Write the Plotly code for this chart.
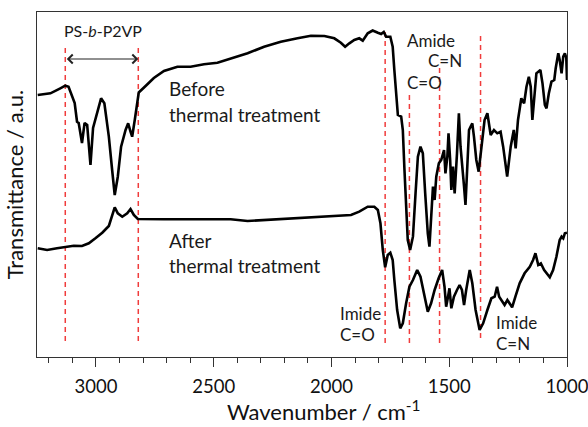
import plotly.graph_objects as go

# ---- data ----
wn_before = [3247, 3193, 3151, 3130, 3116, 3101, 3090, 3080, 3073, 3059, 3048, 3037, 3023, 3012,
             2998, 2978, 2964, 2945, 2931, 2920, 2907, 2893, 2874, 2863, 2853, 2846, 2835, 2824,
             2818, 2789, 2754, 2711, 2654, 2598, 2541, 2484, 2428, 2356, 2286, 2215, 2144, 2087,
             2030, 1988, 1960, 1942, 1924, 1903, 1882, 1867, 1846, 1825, 1803, 1789, 1778, 1768,
             1750, 1740, 1733, 1725, 1718, 1704, 1697, 1690, 1683, 1676, 1666, 1654, 1643, 1633,
             1622, 1612, 1602, 1591, 1584, 1577, 1569, 1562, 1555, 1544, 1534, 1522, 1516, 1508,
             1503, 1496, 1491, 1484, 1477, 1467, 1459, 1452, 1445, 1437, 1431, 1423, 1416, 1409,
             1402, 1395, 1385, 1375, 1364, 1350, 1338, 1324, 1310, 1296, 1282, 1271, 1254, 1239,
             1226, 1218, 1208, 1194, 1182, 1172, 1162, 1154, 1147, 1140, 1130, 1113, 1104, 1094,
             1087, 1077, 1066, 1054, 1048, 1037, 1031, 1023, 1016, 1009, 1003, 1000]
t_before = [262, 263.7, 268.7, 271.3, 270.3, 260.3, 254, 235.3, 234, 214, 234, 232, 192, 229,
            240.3, 258.7, 253.7, 220.3, 187, 162, 180.3, 210.3, 227, 233.7, 225.3, 220.3, 237, 257,
            264.5, 271, 279, 286, 290.3, 290.3, 292.7, 294.3, 298.7, 303.7, 310.3, 315.3, 318.7, 321.3,
            321, 318.7, 314.3, 310.3, 313.7, 317, 318.7, 316.3, 323.7, 326.5, 324.3, 323, 325, 320.3,
            320.3, 310.3, 287, 260.3, 242, 240.3, 227, 187, 143.7, 117, 107, 120.3, 163.7, 200.3,
            210.3, 203.7, 163.7, 123.7, 110.3, 137, 170.3, 157, 180.3, 193.7, 197, 207, 183.7, 200.3,
            223.7, 197, 167, 190.3, 163.7, 203.7, 243.7, 210.3, 187, 170.3, 152, 193.7, 227, 230.3,
            233.7, 220.3, 197, 185.3, 210.3, 237, 243.7, 222, 227, 223.7, 225.3, 210.3, 180.3, 210.3,
            227, 208.7, 237, 258.7, 253.7, 270.3, 280.3, 270.3, 237, 257, 283.7, 287, 273.7, 252,
            248.7, 263.7, 275.3, 277, 288.7, 303.7, 297, 283.7, 300.3, 303.7, 299, 277]

wn_after = [3247, 3207, 3165, 3130, 3094, 3059, 3030, 3002, 2973, 2945, 2931, 2920, 2907, 2888,
            2867, 2853, 2839, 2822, 2711, 2569, 2428, 2356, 2286, 2144, 2002, 1917, 1882, 1860,
            1846, 1818, 1803, 1792, 1782, 1772, 1761, 1750, 1740, 1733, 1721, 1708, 1697, 1683,
            1669, 1654, 1636, 1622, 1605, 1591, 1577, 1562, 1545, 1530, 1520, 1513, 1505, 1499,
            1491, 1480, 1467, 1456, 1446, 1437, 1428, 1413, 1402, 1388, 1371, 1356, 1338, 1321,
            1307, 1297, 1288, 1279, 1265, 1253, 1243, 1233, 1219, 1201, 1180, 1158, 1144, 1134,
            1122, 1111, 1097, 1073, 1059, 1045, 1031, 1023, 1016, 1009, 1000]
t_after = [108.7, 107, 108.7, 110.3, 111.3, 111, 113.7, 118.7, 124.3, 131, 140.3, 149.7, 143.7, 140.3,
           143.7, 148, 142, 138, 137.7, 137.7, 137.7, 136, 137, 138.7, 141, 142, 145.3, 148.7,
           150.3, 150.3, 147, 133.7, 107, 89.7, 102, 104.3, 97, 77, 47, 28.7, 33.7, 53.7,
           70.3, 77, 87, 80.3, 60.3, 45.3, 53.7, 67, 78.7, 87, 70.3, 50.3, 60.3, 68.7,
           48.7, 60.3, 67, 72, 67, 52, 67, 87, 73.7, 47, 27, 33.7, 47, 58.7,
           60.3, 70.3, 60.3, 57, 52, 57, 53.7, 49.7, 60.3, 73.7, 83.7, 90.3, 97, 103.7,
           92, 93.7, 87, 79.7, 87, 100.3, 117, 120.3, 118.7, 123.7, 124.3]

# marker lines: wavenumber, bottom, top (a.u.)
mark_wn = [3130, 2820, 1772, 1669, 1541, 1367]
mark_lo = [16, 16, 14, 14, 14, 19]
mark_hi = [312, 312, 329, 262, 290, 321]

x_ticks = [3000, 2500, 2000, 1500, 1000]

FONT = "Lato"

fig = go.Figure()
fig.add_trace(go.Scatter(x=wn_before, y=t_before, mode="lines",
                         line=dict(color="black", width=2.6), showlegend=False))
fig.add_trace(go.Scatter(x=wn_after, y=t_after, mode="lines",
                         line=dict(color="black", width=2.6), showlegend=False))

for w, lo, hi in zip(mark_wn, mark_lo, mark_hi):
    fig.add_shape(type="line", x0=w, x1=w, y0=lo, y1=hi, xref="x", yref="y",
                  line=dict(color="#f03c3c", width=1.5, dash="5px,4px"), layer="below")

def txt(s, x, y, size=17, anchor="left"):
    fig.add_annotation(text=s, x=x, y=y, xref="x", yref="y", showarrow=False,
                       xanchor=anchor, yanchor="middle",
                       font=dict(family=FONT, size=size, color="#1a1a1a"))

txt("PS-<i>b</i>-P2VP", 2968, 327, size=16, anchor="center")
txt("Before", 2700, 269, 19)
txt("thermal treatment", 2700, 243, 19)
txt("After", 2700, 117, 19)
txt("thermal treatment", 2700, 92, 19)
txt("Amide", 1687, 317)
txt("C=N", 1598, 297)
txt("C=O", 1687, 275)
txt("Imide", 1972, 44)
txt("C=O", 1972, 23)
txt("Imide", 1309, 35)
txt("C=N", 1309, 14)

fig.add_annotation(x=2820, y=298, ax=3130, ay=298, xref="x", yref="y", axref="x", ayref="y",
                   text="", showarrow=True, arrowhead=4, arrowside="end+start",
                   arrowsize=1.6, arrowwidth=1.1, arrowcolor="#222")

# x-axis title as annotation (shifted right like the reference)
fig.add_annotation(text="Wavenumber / cm<sup>-1</sup>", x=0.5415, y=-0.155, xref="paper",
                   yref="paper", showarrow=False, xanchor="center", yanchor="middle",
                   font=dict(family=FONT, size=22, color="#111"))

fig.update_xaxes(range=[3250, 1000], tickvals=x_ticks, ticks="outside", ticklen=9,
                 tickwidth=1.3, tickcolor="#333", showline=True, linecolor="#333", linewidth=1.3,
                 mirror=True, showgrid=False, zeroline=False, automargin=False,
                 ticklabeloverflow="allow",
                 tickfont=dict(family=FONT, size=18.5, color="#111"), ticklabelstandoff=4,
                 minor=dict(dtick=100, tick0=1000, ticks="outside", ticklen=5, tickwidth=1.3,
                            tickcolor="#333", showgrid=False))
fig.update_yaxes(range=[0, 345], showticklabels=False, ticks="", showline=True, linecolor="#333",
                 linewidth=1.3, mirror=True, showgrid=False, zeroline=False, automargin=False,
                 title=dict(text="Transmittance / a.u.", standoff=6,
                            font=dict(family=FONT, size=22, color="#111")))

fig.update_layout(width=588, height=427, margin=dict(l=37, r=21, t=12, b=70),
                  plot_bgcolor="white", paper_bgcolor="white")

fig.write_html("out.html")
